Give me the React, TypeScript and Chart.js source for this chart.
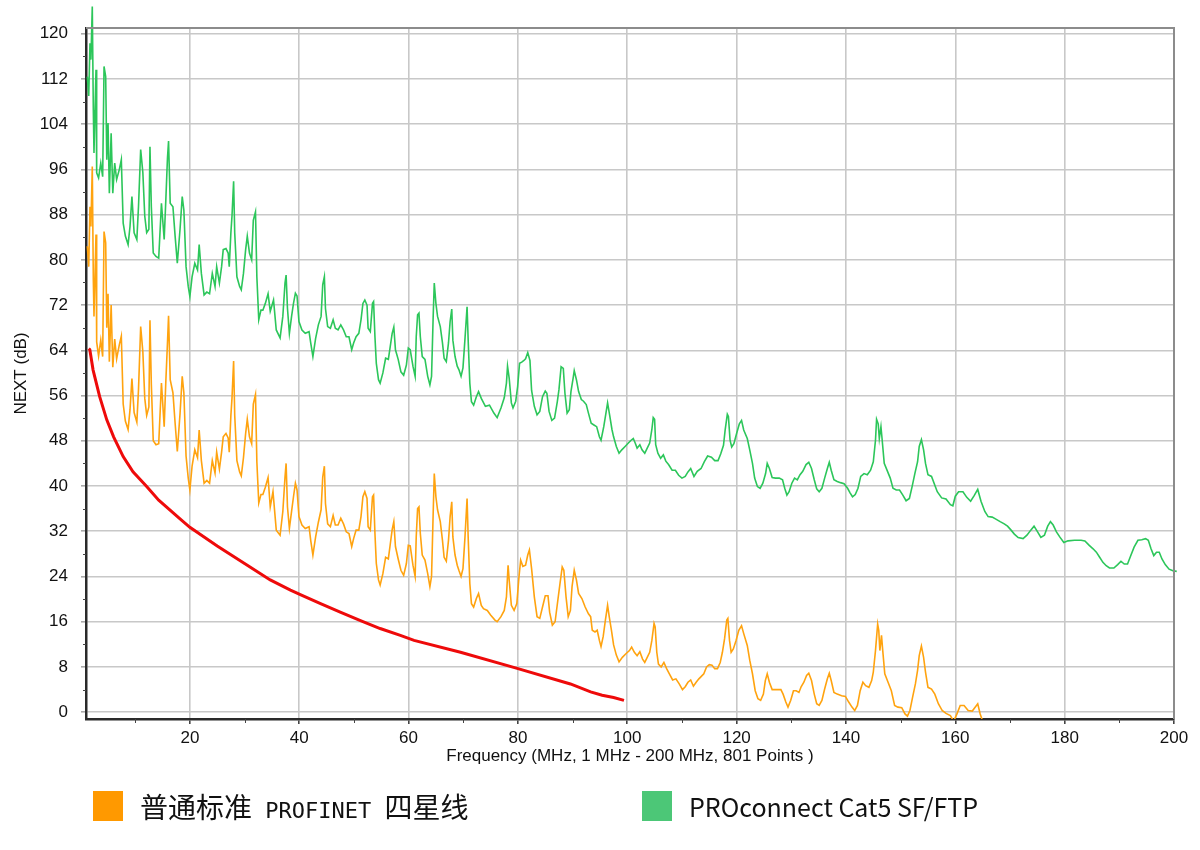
import React, { useEffect, useRef } from "react";
import { Chart, registerables } from "chart.js";

Chart.register(...registerables);

// Frequency (MHz) / NEXT (dB) pairs
const GREEN_SERIES: [number, number][] = [
  [1.24,112.4],[1.5,109],[1.73,118.3],[1.9,115.4],[2.15,124.8],[2.34,106.5],[2.46,98.9],[2.83,113.6],[2.95,95.4],
  [3.3,94.5],[3.7,97.1],[4.05,94.7],[4.3,114.2],[4.6,112.4],[4.8,97.7],[5.03,104.2],[5.27,91.8],[5.6,102.4],
  [5.9,91.8],[6.25,97.1],[6.6,94.2],[7.1,96],[7.46,97.7],[7.8,86.5],[8.2,84.2],[8.7,82.7],[9.05,85.9],[9.4,91.2],
  [9.8,84.8],[10.3,83.6],[10.6,89.4],[11.0,99.5],[11.4,95.4],[11.75,87.7],[12.1,84.8],[12.5,85.4],[12.7,100],
  [12.95,89.4],[13.3,81.2],[13.8,80.6],[14.3,80.3],[14.8,90],[15.3,83.6],[15.6,90.6],[15.9,98],[16.1,101],
  [16.4,90],[16.9,89.4],[17.3,84.2],[17.7,79.4],[18.2,85.4],[18.6,91.2],[18.9,88.8],[19.3,78.8],[19.7,75.3],
  [20.0,73.5],[20.4,77],[20.9,79.4],[21.4,78.2],[21.7,82.7],[22.1,77.6],[22.6,73.8],[23.1,74.3],[23.6,74],
  [24.1,77.6],[24.6,75.3],[24.9,78.8],[25.4,75.9],[25.8,78.8],[26.1,81.8],[26.6,82],[27.0,81.2],[27.2,78.8],
  [27.5,84.8],[27.7,87.7],[28.0,93.9],[28.2,84.8],[28.6,77],[29.1,75.3],[29.4,74.7],[29.8,77.6],[30.2,81.8],
  [30.5,84.2],[30.9,81.2],[31.3,80],[31.6,87],[32.0,88.5],[32.25,77],[32.6,69.4],[33.0,71.1],[33.35,71.1],
  [33.8,72.3],[34.3,74],[34.7,70.9],[35.3,72.9],[35.8,67.6],[36.5,66.2],[37.0,70],[37.4,75.9],[37.6,77.3],
  [37.85,71.4],[38.2,67],[38.6,70],[38.95,72.3],[39.3,74.1],[39.6,73.6],[39.95,69.1],[40.5,67.6],[41.1,67],
  [41.8,67.3],[42.1,65.3],[42.5,62.9],[43.0,66.1],[43.5,68.5],[44.0,70],[44.3,75.6],[44.6,77],[44.8,71.4],
  [45.2,68.2],[45.7,67.9],[46.2,69.4],[46.6,67.9],[47.1,67.6],[47.6,68.5],[48.1,67.6],[48.6,66.4],[49.1,66.4],
  [49.6,64.1],[49.95,65.3],[50.4,66.4],[50.9,67],[51.3,69.4],[51.65,72.3],[52.0,72.9],[52.4,72],[52.6,67.9],
  [53.0,67.3],[53.4,72.3],[53.6,72.6],[53.85,66.4],[54.1,61.7],[54.5,58.8],[54.8,58.2],[55.3,60],[55.8,62.6],
  [56.3,62.4],[56.65,64.7],[57.0,67],[57.3,68.1],[57.6,64.1],[58.1,62.4],[58.6,60.2],[59.1,59.6],[59.6,61.4],
  [59.95,64.4],[60.3,64.1],[60.8,61.2],[61.2,59.4],[61.4,66.4],[61.65,70.3],[61.9,70.6],[62.15,66.4],[62.5,62.9],
  [63.0,62.4],[63.5,59.4],[63.9,57.9],[64.2,59.4],[64.5,70],[64.7,75.9],[65.0,72.3],[65.3,70],[65.8,68.2],
  [66.2,65.3],[66.5,62.6],[66.9,62],[67.3,65.3],[67.6,69.1],[67.9,71.3],[68.1,65.8],[68.5,62.9],[68.9,61.2],
  [69.2,60.6],[69.6,59.4],[69.95,60.9],[70.3,65.8],[70.7,71.7],[70.9,65.8],[71.2,58.2],[71.5,54.9],[71.9,54.3],
  [72.4,55.8],[72.8,56.7],[73.3,55.5],[74.05,54.1],[74.8,54.3],[75.6,52.9],[76.2,52.1],[76.9,53.8],[77.5,55.6],
  [77.9,58.2],[78.1,61.2],[78.4,59.1],[78.8,54.7],[79.1,53.8],[79.6,55],[79.95,57.6],[80.3,61.7],[80.7,61.9],
  [81.1,62.2],[81.4,62.5],[81.8,63.6],[82.2,62.2],[82.5,56.9],[83.0,54.1],[83.5,52.6],[84.0,53.2],[84.5,55.8],
  [85.0,56.8],[85.3,56.4],[85.7,53.2],[86.2,51.6],[86.7,52],[87.2,54.9],[87.5,57],[87.9,61.1],[88.3,60.8],
  [88.6,56.4],[89.0,52.9],[89.4,53.5],[89.7,56.7],[90.1,59.1],[90.3,60.4],[90.7,58.8],[91.1,56.7],[91.6,55.3],
  [92.0,55],[92.5,54.4],[92.9,52.9],[93.4,51.1],[93.9,50.8],[94.4,50.5],[94.9,48.7],[95.2,48.1],[95.7,50.5],
  [96.1,52.9],[96.4,54.7],[96.8,52.4],[97.2,50],[97.5,48.7],[98.0,47],[98.5,45.8],[99.0,46.4],[99.6,47],
  [100.2,47.6],[100.7,48.1],[101.1,48.4],[101.45,47.6],[101.8,46.7],[102.3,47.3],[102.7,46.4],[103.2,45.8],
  [103.65,46.7],[104.1,47.6],[104.5,50],[104.75,52.1],[105.0,51.8],[105.2,47.3],[105.6,45.8],[106.1,44.9],
  [106.6,45.5],[107.05,44.4],[107.55,43.8],[108.2,42.8],[108.8,42.8],[109.4,41.9],[110.0,41.4],[110.6,41.7],
  [111.1,42.5],[111.6,43.1],[112.2,41.7],[112.8,42.6],[113.5,43.1],[114.1,44.3],[114.7,45.3],[115.4,45.1],
  [116.0,44.5],[116.6,44.5],[117.1,45.7],[117.6,47.2],[117.9,49.9],[118.3,52.7],[118.5,52.3],[118.8,48.1],
  [119.1,46.9],[119.5,47.5],[120.0,49.3],[120.5,51.0],[120.9,51.6],[121.3,49.9],[121.95,48.4],[122.4,46.4],
  [122.9,44],[123.3,41.4],[123.8,39.9],[124.3,39.6],[124.8,40.5],[125.3,42.2],[125.6,44],[126.0,43.1],
  [126.5,41.5],[127.1,41.4],[127.8,41.4],[128.4,41.1],[128.8,39.6],[129.2,38.4],[129.6,39],[130.1,40.5],
  [130.6,41.4],[131.1,41.1],[131.6,42],[132.1,42.6],[132.7,43.8],[133.2,44.2],[133.7,43.1],[134.2,41.1],
  [134.65,39.5],[135.1,39],[135.6,39.6],[136.1,41.4],[136.6,43.1],[136.95,44.2],[137.3,42.8],[137.8,41.1],
  [138.4,40.8],[139.0,40.6],[139.65,40.4],[140.3,39.6],[140.75,38.8],[141.2,38.1],[141.7,38.5],[142.2,39.6],
  [142.7,41.7],[143.3,42.2],[143.9,42],[144.5,42.8],[145.0,44.3],[145.4,48.1],[145.6,51.8],[145.9,51.0],
  [146.1,48.4],[146.4,50.5],[146.6,48.4],[147.0,44],[147.6,42.6],[148.1,41.4],[148.6,39.6],[149.2,39.3],
  [149.8,39.3],[150.4,38.4],[151.0,37.4],[151.6,37.8],[152.1,39.9],[152.6,42.2],[153.1,44.3],[153.4,47],
  [153.8,48.2],[154.2,46.4],[154.55,44],[155.0,42],[155.65,41.7],[156.7,39],[157.5,37.9],[158.3,37.7],
  [159.1,36.7],[159.55,36.5],[160.0,38.2],[160.6,39],[161.4,39],[162.1,38],[162.8,37.3],[163.45,38.3],
  [164.1,39.4],[164.7,37.3],[165.4,35.5],[166.0,34.6],[166.75,34.5],[167.5,34.1],[168.2,33.7],[168.95,33.3],
  [169.55,32.9],[170.2,32.2],[170.8,31.5],[171.5,30.9],[172.4,30.7],[173.1,31.3],[173.8,32.2],[174.4,32.9],
  [175.05,31.9],[175.65,30.9],[176.3,31.3],[176.9,32.9],[177.4,33.7],[177.9,33.1],[178.5,31.9],[179.1,31.0],
  [179.85,30.0],[180.6,30.3],[181.8,30.4],[183.0,30.4],[183.7,30.3],[184.5,29.5],[185.2,28.9],[185.8,28.3],
  [186.4,27.4],[187.0,26.5],[187.6,25.9],[188.2,25.5],[189.0,25.5],[189.7,26.1],[190.3,26.7],[190.9,26.2],
  [191.5,26.2],[192.1,27.7],[192.7,29.2],[193.4,30.4],[194.1,30.5],[194.8,30.7],[195.3,30.4],[195.8,28.9],
  [196.3,27.7],[196.8,28.3],[197.3,28.3],[197.8,27.1],[198.4,26.1],[199.1,25.3],[199.8,25.0],[200.5,24.9]
];

const ORANGE_SERIES: [number, number][] = [
  [1.24,82.4],[1.5,78.8],[1.73,89.4],[1.9,85.9],[2.15,96.5],[2.34,76.5],[2.46,70],[2.83,84.5],[2.95,65.5],
  [3.3,63],[3.7,65.8],[4.05,62.9],[4.3,85],[4.6,83],[4.8,68],[5.03,74],[5.27,62],[5.6,72],[5.9,61],[6.25,66],
  [6.6,62.5],[7.1,65],[7.46,66.5],[7.8,54.5],[8.2,51.5],[8.7,50],[9.05,53.5],[9.4,59],[9.8,53],[10.3,51.3],
  [10.6,57],[11.0,68.2],[11.4,63.7],[11.75,55.5],[12.1,52.5],[12.5,54],[12.7,69.3],[12.95,58],[13.3,48],
  [13.8,47.3],[14.3,47.5],[14.8,58.2],[15.3,50.5],[15.6,58.5],[15.9,65.3],[16.1,70.1],[16.4,58.8],[16.9,56.5],
  [17.3,51.1],[17.7,46.1],[18.2,52.8],[18.6,59.4],[18.9,56.5],[19.3,45.3],[19.7,41.4],[20.0,39.3],[20.4,43.5],
  [20.9,46.4],[21.4,45],[21.7,49.9],[22.1,44.5],[22.6,40.5],[23.1,41],[23.6,40.5],[24.1,44.5],[24.6,42.3],
  [24.9,46],[25.4,43],[25.8,46],[26.1,48.7],[26.6,49.3],[27.0,48.5],[27.2,46],[27.5,52.5],[27.7,55.5],
  [28.0,62.1],[28.2,52.5],[28.6,44.5],[29.1,42.5],[29.4,41.8],[29.8,45],[30.2,49.3],[30.5,51.8],[30.9,48.7],
  [31.3,47.5],[31.6,54.5],[32.0,56.2],[32.25,44.3],[32.6,37],[33.0,38.5],[33.35,38.5],[33.8,39.8],[34.3,41.5],
  [34.7,36.3],[35.2,39.0],[35.8,32.2],[36.5,31.3],[37.0,35.5],[37.4,41.6],[37.6,44.0],[37.85,36.3],[38.2,32.5],
  [38.6,35.5],[38.95,38.1],[39.3,40.5],[39.6,39.3],[39.95,34.6],[40.5,33.1],[41.1,32.5],[41.8,32.8],[42.1,30.4],
  [42.5,27.8],[43.0,31.0],[43.5,33.6],[44.0,35.8],[44.3,41.6],[44.6,43.5],[44.8,36.9],[45.2,33.3],[45.7,32.8],
  [46.2,34.8],[46.6,33.1],[47.1,33.1],[47.6,34.3],[48.1,33.3],[48.6,31.9],[49.1,31.6],[49.6,29.3],[49.95,30.7],
  [50.4,32.2],[50.9,32.2],[51.3,34.6],[51.65,38.1],[52.0,39.0],[52.4,37.8],[52.6,32.8],[53.0,32.2],[53.4,38.1],
  [53.6,38.4],[53.85,31.6],[54.1,26.3],[54.5,23.4],[54.8,22.5],[55.3,24.5],[55.8,27.4],[56.3,27.1],[56.65,29.7],
  [57.0,32.3],[57.3,33.7],[57.6,29.3],[58.1,27.1],[58.6,25.1],[59.1,24.2],[59.6,26.3],[59.95,29.5],[60.3,29.4],
  [60.8,26.0],[61.2,24.0],[61.4,31.0],[61.65,36.0],[61.9,36.3],[62.15,31.6],[62.5,27.8],[63.0,26.9],[63.5,24.5],
  [63.9,22.2],[64.2,24.0],[64.5,35.2],[64.7,42.2],[65.0,38.1],[65.3,35.8],[65.8,33.7],[66.2,30.4],[66.5,27.4],
  [66.9,26.7],[67.3,30.4],[67.6,34.6],[67.9,37.2],[68.1,31.0],[68.5,27.8],[68.9,26.0],[69.2,25.1],[69.6,24.0],
  [69.95,25.4],[70.3,30.7],[70.7,37.8],[70.9,31.0],[71.2,22.8],[71.5,19.2],[71.9,18.6],[72.4,20.1],[72.8,21.0],
  [73.3,18.9],[73.7,18.3],[74.4,18.0],[75.0,17.2],[75.8,16.3],[76.2,16.0],[76.9,16.9],[77.5,18.0],[77.9,20.4],
  [78.2,26.0],[78.4,23.4],[78.8,18.9],[79.3,18.0],[79.8,19.2],[80.2,24.0],[80.5,26.9],[80.9,25.8],[81.4,26.0],
  [81.8,27.8],[82.1,28.7],[82.5,25.4],[83.0,20.4],[83.5,16.9],[84.0,16.6],[84.5,18.6],[85.0,20.6],[85.5,20.6],
  [85.8,17.7],[86.3,15.4],[86.8,16.0],[87.3,19.8],[87.7,22.8],[88.1,25.7],[88.4,25.1],[88.8,20.4],[89.2,16.9],
  [89.6,18.0],[89.9,22.2],[90.3,25.1],[90.7,23.4],[91.1,21.0],[91.7,20.1],[92.3,18.6],[92.9,17.4],[93.3,16.9],
  [93.6,14.5],[94.1,14.2],[94.5,14.5],[94.9,12.7],[95.2,11.6],[95.6,13.4],[96.0,16.3],[96.4,18.9],[96.7,16.9],
  [97.1,14.5],[97.5,11.9],[98.0,10.1],[98.5,8.9],[99.1,9.7],[99.7,10.3],[100.4,10.9],[100.8,11.5],[101.3,10.6],
  [101.8,10.0],[102.3,10.7],[102.8,9.4],[103.2,8.8],[103.65,9.7],[104.1,10.6],[104.5,12.7],[104.9,15.7],
  [105.1,15.1],[105.4,10.6],[105.7,8.5],[106.2,8.0],[106.7,8.8],[107.2,7.7],[107.7,6.8],[108.3,5.7],[108.9,5.9],
  [109.5,5.0],[110.1,4.0],[110.6,4.5],[111.1,5.3],[111.6,5.7],[112.1,4.6],[112.6,5.3],[113.1,5.9],[113.5,6.3],
  [114.0,6.8],[114.5,8.0],[115.0,8.4],[115.5,8.3],[116.0,7.7],[116.5,7.7],[117.0,8.8],[117.4,10.6],[117.8,13.0],
  [118.2,16.3],[118.4,16.6],[118.7,12.7],[119.0,10.6],[119.4,11.2],[119.9,12.7],[120.4,14.5],[120.9,15.3],
  [121.3,13.9],[121.95,11.8],[122.4,9.2],[122.9,6.8],[123.4,3.8],[123.9,2.4],[124.4,2.1],[124.9,3.2],[125.25,5.6],
  [125.6,6.8],[126.0,5.3],[126.5,4.0],[127.2,4.0],[128.1,4.0],[128.5,3.2],[129.0,1.8],[129.4,0.9],[129.9,2.1],
  [130.4,3.8],[130.9,3.8],[131.4,3.5],[131.8,4.5],[132.3,5.3],[132.8,6.5],[133.2,6.9],[133.7,5.6],[134.2,3.2],
  [134.65,1.5],[135.1,1.2],[135.6,2.1],[136.1,4.1],[136.6,5.9],[136.95,6.9],[137.3,5.6],[137.8,3.5],[138.4,3.2],
  [139.2,2.9],[139.9,2.8],[140.5,1.8],[141.1,0.9],[141.6,0.3],[142.1,1.2],[142.6,3.8],[143.1,5.3],[143.6,4.7],
  [144.2,4.4],[144.7,5.6],[145.0,7.1],[145.4,10.9],[145.8,15.6],[146.0,14.5],[146.2,10.9],[146.5,13.6],
  [146.7,11.2],[147.1,6.8],[147.7,5.3],[148.3,3.8],[148.9,1.2],[149.5,0.9],[150.2,0.8],[150.8,-0.3],[151.25,-0.7],
  [151.7,0.3],[152.2,2.7],[152.7,5.0],[153.1,7.4],[153.4,10.0],[153.8,11.7],[154.2,9.7],[154.55,7.1],[155.0,4.4],
  [155.65,4.1],[156.25,3.2],[156.9,1.5],[157.6,0.3],[158.3,-0.2],[159.1,-0.6],[159.7,-1.6],[160.3,-0.3],
  [160.9,1.2],[161.6,1.2],[162.35,0.3],[163.1,0.2],[164.1,1.5],[164.55,-0.3],[165.0,-1.6]
];

const RED_LIMIT: [number, number][] = [
  [1.5,64.3],[1.7,64.1],[2.3,60.5],[3.5,55.8],[4.8,51.7],[6.05,48.7],[7.8,45.2],[9.6,42.5],[12.1,39.9],
  [14.3,37.5],[18.2,34.2],[20,32.7],[25,29.4],[30,26.3],[34.7,23.4],[38.4,21.6],[40.2,20.8],[43.9,19.2],
  [47.5,17.7],[51.2,16.2],[54.8,14.8],[58.5,13.6],[61,12.7],[69.5,10.6],[79.7,7.8],[89.6,5.0],[93.3,3.6],
  [95.4,3.0],[97.5,2.6],[99.4,2.1]
];

const X_TICKS = [20, 40, 60, 80, 100, 120, 140, 160, 180, 200];
const X_MINOR = [10, 30, 50, 70, 90, 110, 130, 150, 170, 190];
const Y_TICKS = [0, 8, 16, 24, 32, 40, 48, 56, 64, 72, 80, 88, 96, 104, 112, 120];
const Y_MINOR = [4, 12, 20, 28, 36, 44, 52, 60, 68, 76, 84, 92, 100, 108, 116];

const X_TITLE = "Frequency (MHz, 1 MHz - 200 MHz, 801 Points )";
const Y_TITLE = "NEXT (dB)";
const LEGEND_ORANGE = ["普通标准", " PROFINET ", "四星线"];
const LEGEND_GREEN = "PROconnect Cat5 SF/FTP";

const toXY = (arr: [number, number][]) => arr.map(([x, y]) => ({ x, y }));

const framePlugin = {
  id: "frameMinor",
  afterDraw(chart: any) {
    const { ctx, chartArea, scales } = chart;
    const { left, right, top, bottom } = chartArea;
    ctx.save();
    ctx.strokeStyle = "#8c8c8c";
    ctx.lineWidth = 2;
    ctx.beginPath();
    ctx.moveTo(left, top);
    ctx.lineTo(right, top);
    ctx.lineTo(right, bottom);
    ctx.stroke();
    ctx.strokeStyle = "#444";
    ctx.lineWidth = 1;
    X_MINOR.forEach((v) => {
      const px = Math.round(scales.x.getPixelForValue(v)) + 0.5;
      ctx.beginPath();
      ctx.moveTo(px, bottom);
      ctx.lineTo(px, bottom + 4);
      ctx.stroke();
    });
    Y_MINOR.forEach((v) => {
      const py = Math.round(scales.y.getPixelForValue(v)) + 0.5;
      ctx.beginPath();
      ctx.moveTo(left - 3, py);
      ctx.lineTo(left, py);
      ctx.stroke();
    });
    ctx.restore();
  },
};

export default function App() {
  const canvasRef = useRef<HTMLCanvasElement | null>(null);

  useEffect(() => {
    if (!canvasRef.current) return;
    const tickFont = { family: "'Liberation Sans', Arial, sans-serif", size: 17 };
    const chart = new Chart(canvasRef.current, {
      type: "line",
      data: {
        datasets: [
          {
            label: LEGEND_GREEN,
            data: toXY(GREEN_SERIES),
            borderColor: "#2cc65a",
            borderWidth: 1.6,
            pointRadius: 0,
            tension: 0,
            clip: false as any,
          },
          {
            label: LEGEND_ORANGE.join(""),
            data: toXY(ORANGE_SERIES),
            borderColor: "#ffa30f",
            borderWidth: 1.6,
            pointRadius: 0,
            tension: 0,
          },
          {
            label: "limit",
            data: toXY(RED_LIMIT),
            borderColor: "#ee0a0a",
            borderWidth: 3,
            pointRadius: 0,
            tension: 0,
          },
        ],
      },
      options: {
        animation: false,
        responsive: true,
        maintainAspectRatio: false,
        layout: { padding: { left: 0, top: 28, right: 26, bottom: 83 } },
        plugins: { legend: { display: false }, tooltip: { enabled: false } },
        scales: {
          x: {
            type: "linear",
            min: 1,
            max: 200,
            afterBuildTicks: (s: any) => {
              s.ticks = X_TICKS.map((v) => ({ value: v }));
            },
            afterFit: (s: any) => {
              s.height = 48;
            },
            grid: { color: "#c8c8c8", lineWidth: 1.6, tickLength: 5, tickColor: "#444" },
            border: { color: "#2a2a2a", width: 2.5 },
            ticks: { font: tickFont, color: "#111", padding: 4, maxRotation: 0, autoSkip: false },
            title: {
              display: true,
              text: X_TITLE,
              font: tickFont,
              color: "#111",
              padding: { top: 0, bottom: 0 },
            },
          },
          y: {
            type: "linear",
            min: -1.2,
            max: 121,
            afterBuildTicks: (s: any) => {
              s.ticks = Y_TICKS.map((v) => ({ value: v }));
            },
            afterFit: (s: any) => {
              s.width = 86;
            },
            grid: { color: "#c8c8c8", lineWidth: 1.6, tickLength: 5, tickColor: "#aaa" },
            border: { color: "#2a2a2a", width: 2.5 },
            ticks: { font: tickFont, color: "#111", padding: 13, autoSkip: false },
            title: {
              display: true,
              text: Y_TITLE,
              font: tickFont,
              color: "#111",
              padding: { top: 11, bottom: 0 },
            },
          },
        },
      },
      plugins: [framePlugin],
    });
    return () => chart.destroy();
  }, []);

  const cjk = "'Noto Sans CJK SC', sans-serif";
  return (
    <div style={{ position: "absolute", left: 0, top: 0, width: 1200, height: 850, background: "#fff" }}>
      <canvas ref={canvasRef} width={1200} height={850} />
      <div style={{ position: "absolute", left: 93, top: 791, width: 30, height: 30, background: "#ff9900" }} />
      <div
        style={{
          position: "absolute",
          left: 140,
          top: 786,
          height: 40,
          lineHeight: "40px",
          whiteSpace: "nowrap",
          color: "#111",
        }}
      >
        <span style={{ fontFamily: cjk, fontSize: 28 }}>{LEGEND_ORANGE[0]}</span>
        <span style={{ fontFamily: "'DejaVu Sans Mono', monospace", fontSize: 22, whiteSpace: "pre" }}>{LEGEND_ORANGE[1]}</span>
        <span style={{ fontFamily: cjk, fontSize: 28 }}>{LEGEND_ORANGE[2]}</span>
      </div>
      <div style={{ position: "absolute", left: 642, top: 791, width: 30, height: 30, background: "#4cc777" }} />
      <div
        style={{
          position: "absolute",
          left: 689,
          top: 786,
          height: 40,
          lineHeight: "40px",
          whiteSpace: "nowrap",
          fontFamily: cjk,
          fontSize: 25,
          color: "#111",
        }}
      >
        {LEGEND_GREEN}
      </div>
    </div>
  );
}
